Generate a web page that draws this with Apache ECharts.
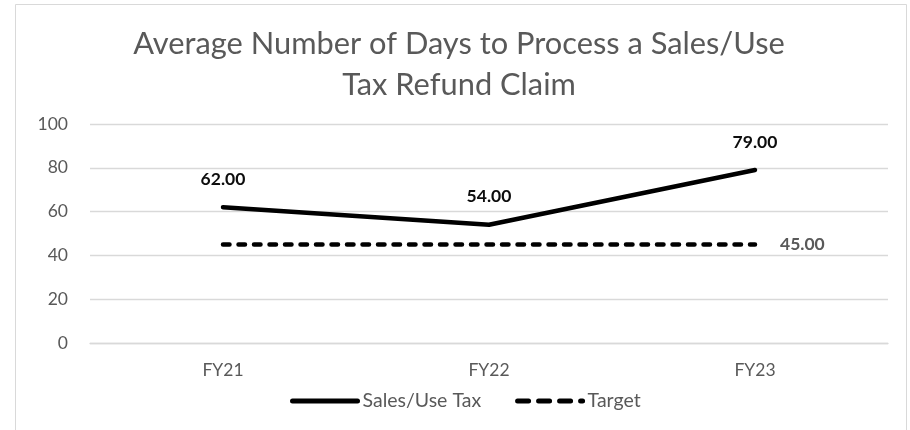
<!DOCTYPE html>
<html>
<head>
<meta charset="utf-8">
<script src="https://cdn.jsdelivr.net/npm/echarts@6/dist/echarts.min.js"></script>
<style>
  html, body { margin: 0; padding: 0; background: #fff; }
  #chart { width: 910px; height: 430px; }
</style>
</head>
<body>
<div id="chart"></div>
<script>
// values
const years = ['FY21', 'FY22', 'FY23'];
const salesUseTax = [62, 54, 79];
const target = [45, 45, 45];
const yTicks = { min: 0, max: 100, interval: 20 };

const FONT = 'Lato';
const GREY = '#595959';

const chart = echarts.init(document.getElementById('chart'), null, { renderer: 'canvas' });

chart.setOption({
  backgroundColor: '#fff',
  animation: false,
  title: {
    text: 'Average Number of Days to Process a Sales/Use\nTax Refund Claim',
    left: 454,
    top: 19,
    textAlign: 'center',
    textStyle: { fontFamily: FONT, fontSize: 30.8, fontWeight: 'normal', color: GREY, lineHeight: 41 },
  },
  legend: {
    left: 290,
    top: 391,
    padding: 0,
    itemWidth: 65,
    itemHeight: 14,
    itemGap: 34,
    itemStyle: { opacity: 0 },
    lineStyle: { width: 5 },
    textStyle: { fontFamily: FONT, fontSize: 19.5, color: GREY },
    data: [
      'Sales/Use Tax',
      { name: 'Target', lineStyle: { width: 5, type: [11, 10], cap: 'round' } },
    ],
  },
  grid: { left: 90, right: 22, top: 124, bottom: 87 },
  xAxis: {
    type: 'category',
    data: years,
    boundaryGap: true,
    axisLine: { lineStyle: { color: '#d9d9d9', width: 1.3 } },
    axisTick: { show: false },
    axisLabel: { margin: 18, fontFamily: FONT, fontSize: 17.5, color: GREY },
  },
  yAxis: {
    type: 'value',
    min: yTicks.min,
    max: yTicks.max,
    interval: yTicks.interval,
    axisLine: { show: false },
    axisTick: { show: false },
    axisLabel: { margin: 22, fontFamily: FONT, fontSize: 17.5, color: GREY },
    splitLine: { lineStyle: { color: '#d9d9d9', width: 1.3 } },
  },
  graphic: [{
    type: 'rect',
    shape: { x: 15.5, y: 4.5, width: 891, height: 430 },
    style: { fill: null, stroke: '#d9d9d9', lineWidth: 1 },
    silent: true,
    z: -1,
  }],
  series: [
    {
      name: 'Sales/Use Tax',
      type: 'line',
      data: salesUseTax,
      symbol: 'circle',
      symbolSize: 0,
      itemStyle: { color: '#000' },
      lineStyle: { color: '#000', width: 4.5, cap: 'round', join: 'round' },
      label: {
        show: true,
        position: 'top',
        distance: 19,
        fontFamily: FONT,
        fontSize: 17.5,
        fontWeight: 'bold',
        color: '#0d0d0d',
        formatter: (p) => p.value.toFixed(2),
      },
    },
    {
      name: 'Target',
      type: 'line',
      data: target.map((v, i) => ({
        value: v,
        label: { show: i === target.length - 1 },
      })),
      symbol: 'circle',
      symbolSize: 0,
      itemStyle: { color: '#000' },
      lineStyle: { color: '#000', width: 4.5, type: [6.5, 9], cap: 'round' },
      label: {
        show: false,
        position: 'right',
        distance: 25,
        fontFamily: FONT,
        fontSize: 17.5,
        fontWeight: 'bold',
        color: GREY,
        formatter: (p) => p.value.toFixed(2),
      },
    },
  ],
});
</script>
</body>
</html>
